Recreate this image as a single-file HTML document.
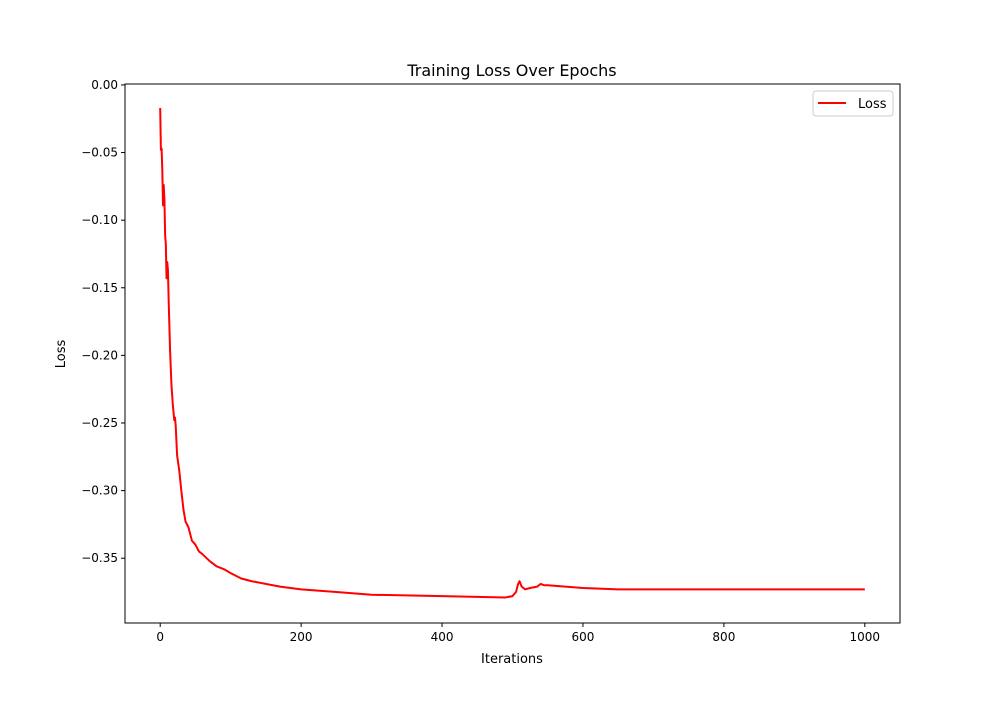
<!DOCTYPE html>
<html><head><meta charset="utf-8"><style>
body{margin:0;background:#fff}
svg{font-family:"DejaVu Sans","Liberation Sans",sans-serif}
</style></head><body>
<svg id="chart" width="1000" height="700" xmlns="http://www.w3.org/2000/svg">
<rect width="1000" height="700" fill="#fff"/>
<text x="512" y="76" font-size="16" text-anchor="middle">Training Loss Over Epochs</text>
<g id="plot"></g>
<rect x="125" y="84" width="775" height="539" fill="none" stroke="#000" stroke-width="1"/>
<text x="512" y="663" font-size="13" text-anchor="middle">Iterations</text>
<text x="65" y="354" font-size="13" text-anchor="middle" transform="rotate(-90 65 354)">Loss</text>
<g>
<rect x="813" y="91" width="80" height="25" rx="3" fill="#fff" stroke="#ccc"/>
<line x1="818" y1="103" x2="846" y2="103" stroke="red" stroke-width="2"/>
<text x="858" y="108" font-size="13">Loss</text>
</g>
</svg>
<script>
const iterations=[0,1,2,3,4,5,6,7,8,9,10,11,12,14,16,18,20,21,22,24,27,30,33,36,40,45,50,55,60,70,80,90,100,115,130,170,200,250,300,400,490,500,505,508,510,513,518,525,535,540,545,550,600,650,800,1000];
const lossValues=[-0.017,-0.048,-0.047,-0.063,-0.089,-0.074,-0.085,-0.111,-0.118,-0.143,-0.131,-0.137,-0.159,-0.196,-0.222,-0.237,-0.248,-0.246,-0.252,-0.274,-0.285,-0.300,-0.314,-0.323,-0.327,-0.337,-0.340,-0.345,-0.347,-0.352,-0.356,-0.358,-0.361,-0.365,-0.367,-0.371,-0.373,-0.375,-0.377,-0.378,-0.379,-0.378,-0.375,-0.369,-0.367,-0.371,-0.373,-0.372,-0.371,-0.369,-0.370,-0.370,-0.372,-0.373,-0.373,-0.373];
const xTicks=[0,200,400,600,800,1000];
const yTicks=[0,-0.05,-0.10,-0.15,-0.20,-0.25,-0.30,-0.35];
const yTickLabels=["0.00","−0.05","−0.10","−0.15","−0.20","−0.25","−0.30","−0.35"];
const X0=125,X1=900,Y0=84,Y1=623;
const xmin=-49.95,xmax=1049.95,ymin=-0.3979,ymax=0.0007;
const sx=v=>X0+(v-xmin)/(xmax-xmin)*(X1-X0);
const sy=v=>Y1-(v-ymin)/(ymax-ymin)*(Y1-Y0);
const NS="http://www.w3.org/2000/svg";
const g=document.getElementById('plot');
function mk(t,a){const e=document.createElementNS(NS,t);for(const k in a)e.setAttribute(k,a[k]);g.appendChild(e);return e;}
xTicks.forEach(v=>{
 const l=mk('line',{x1:sx(v),x2:sx(v),y1:Y1,y2:Y1+4,stroke:'#000'});
 
 
 const t=mk('text',{x:sx(v),y:Y1+18,'font-size':12,'text-anchor':'middle'});t.textContent=v;
 
 
});
yTicks.forEach((v,i)=>{
 const l=mk('line',{x1:X0-4,x2:X0,y1:sy(v),y2:sy(v),stroke:'#000'});
 
 
 const t=mk('text',{x:X0-7,y:sy(v)+4,'font-size':12,'text-anchor':'end'});t.textContent=yTickLabels[i];
 
 
});
const p=mk('path',{d:iterations.map((x,i)=>(i?'L':'M')+sx(x).toFixed(2)+' '+sy(lossValues[i]).toFixed(2)).join(''),fill:'none',stroke:'red','stroke-width':2,'stroke-linejoin':'round'});


</script>
</body></html>
